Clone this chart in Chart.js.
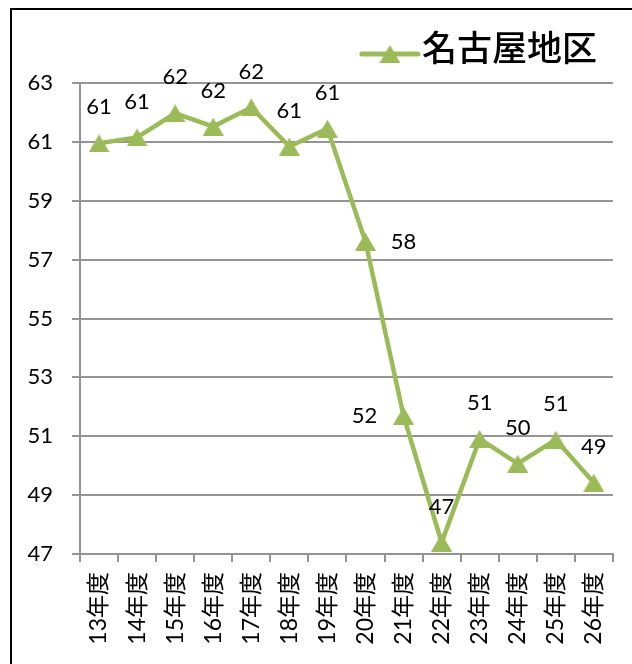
<!DOCTYPE html>
<html lang="ja">
<head>
<meta charset="utf-8">
<title>名古屋地区</title>
<script src="https://cdn.jsdelivr.net/npm/chart.js@4.4.0/dist/chart.umd.min.js"></script>
<style>
  html, body { margin: 0; padding: 0; background: #fff; overflow: hidden; }
  #wrap { position: relative; width: 632px; height: 664px; overflow: hidden; }
  /* 外枠（上と左だけ見えている） */
  #frame { position: absolute; left: 10px; top: 8px; width: 700px; height: 700px;
           border-left: 2px solid #000; border-top: 2px solid #000; }
  #chart { position: absolute; left: 0; top: 0; }
</style>
</head>
<body>
<div id="wrap">
  <div id="frame"></div>
  <canvas id="chart" width="632" height="664"></canvas>
</div>
<script>
// データ
const seriesName = '名古屋地区';
const categories = ['13年度', '14年度', '15年度', '16年度', '17年度', '18年度', '19年度',
                    '20年度', '21年度', '22年度', '23年度', '24年度', '25年度', '26年度'];
const values = [60.95, 61.15, 61.97, 61.52, 62.17, 60.84, 61.45,
                57.61, 51.70, 47.39, 50.91, 50.07, 50.88, 49.42];
// データラベルの位置（上 / 右 / 左）
const labelPlacement = ['top', 'top', 'top', 'top', 'top', 'top', 'top',
                        'right', 'left', 'top', 'top', 'top', 'top', 'top'];
const yTicks = [47, 49, 51, 53, 55, 57, 59, 61, 63];

const GREEN = '#9bbb59';
const GRID = '#949494';

// 三角マーカー（中心がデータ点になるように画像で作る）
function makeTriangle(w, h) {
    const c = document.createElement('canvas');
    c.width = w;
    c.height = h;
    const g = c.getContext('2d');
    g.fillStyle = GREEN;
    g.beginPath();
    g.moveTo(w / 2, 0);
    g.lineTo(w, h);
    g.lineTo(0, h);
    g.closePath();
    g.fill();
    return c;
}
const triImg = makeTriangle(21, 18);

// 各点の値ラベル
const pointLabels = {
    id: 'pointLabels',
    afterDatasetsDraw(chart) {
        const meta = chart.getDatasetMeta(0);
        const ctx = chart.ctx;
        ctx.save();
        ctx.font = '22px Lato, "Noto Sans", sans-serif';
        ctx.fillStyle = '#000';
        ctx.textAlign = 'center';
        ctx.textBaseline = 'middle';
        meta.data.forEach((pt, i) => {
            let x = pt.x, y = pt.y;
            if (labelPlacement[i] === 'right') x += 38;
            else if (labelPlacement[i] === 'left') x -= 39;
            else y -= 36;
            ctx.fillText(String(Math.round(values[i])), x, y);
        });
        ctx.restore();
    }
};

// 凡例（線＋三角マーカー）
const lineLegend = {
    id: 'lineLegend',
    afterDraw(chart) {
        const ctx = chart.ctx;
        ctx.save();
        ctx.font = '500 35px "Noto Sans CJK JP", sans-serif';
        const tw = ctx.measureText(seriesName).width;
        const tx = chart.chartArea.right - 16 - tw;
        const cy = 48;
        ctx.fillStyle = '#000';
        ctx.textAlign = 'left';
        ctx.textBaseline = 'middle';
        ctx.fillText(seriesName, tx, cy);

        ctx.strokeStyle = GREEN;
        ctx.lineWidth = 5;
        ctx.lineCap = 'round';
        ctx.beginPath();
        ctx.moveTo(tx - 60, cy + 6);
        ctx.lineTo(tx - 4, cy + 6);
        ctx.stroke();
        ctx.drawImage(triImg, tx - 32 - triImg.width / 2, cy + 6 - triImg.height / 2);
        ctx.restore();
    }
};

new Chart(document.getElementById('chart').getContext('2d'), {
    type: 'line',
    data: {
        labels: categories,
        datasets: [{
            label: seriesName,
            data: values,
            borderColor: GREEN,
            backgroundColor: GREEN,
            borderWidth: 4.5,
            tension: 0,
            fill: false,
            pointStyle: triImg,
            pointRadius: 10,
            pointHoverRadius: 10
        }]
    },
    options: {
        responsive: false,
        animation: false,
        devicePixelRatio: 1,
        layout: {
            padding: { left: 0, right: 15, top: 83, bottom: 0 }
        },
        plugins: {
            legend: { display: false },
            tooltip: { enabled: false }
        },
        scales: {
            x: {
                offset: true,
                afterFit: (scale) => { scale.height = 110; },
                grid: {
                    offset: true,
                    drawOnChartArea: false,
                    color: GRID,
                    lineWidth: 2,
                    tickLength: 8
                },
                border: { color: GRID, width: 2 },
                ticks: {
                    autoSkip: false,
                    minRotation: 90,
                    maxRotation: 90,
                    padding: 10,
                    color: '#000',
                    font: { family: 'Lato, "Noto Sans CJK JP"', size: 23 }
                }
            },
            y: {
                min: yTicks[0],
                max: yTicks[yTicks.length - 1],
                afterFit: (scale) => { scale.width = 80; },
                afterBuildTicks: (scale) => {
                    scale.ticks = yTicks.map(v => ({ value: v }));
                },
                grid: {
                    color: GRID,
                    lineWidth: 2,
                    tickLength: 8
                },
                border: { color: GRID, width: 2 },
                ticks: {
                    padding: 19,
                    color: '#000',
                    font: { family: 'Lato, "Noto Sans"', size: 22 }
                }
            }
        }
    },
    plugins: [pointLabels, lineLegend]
});
</script>
</body>
</html>
